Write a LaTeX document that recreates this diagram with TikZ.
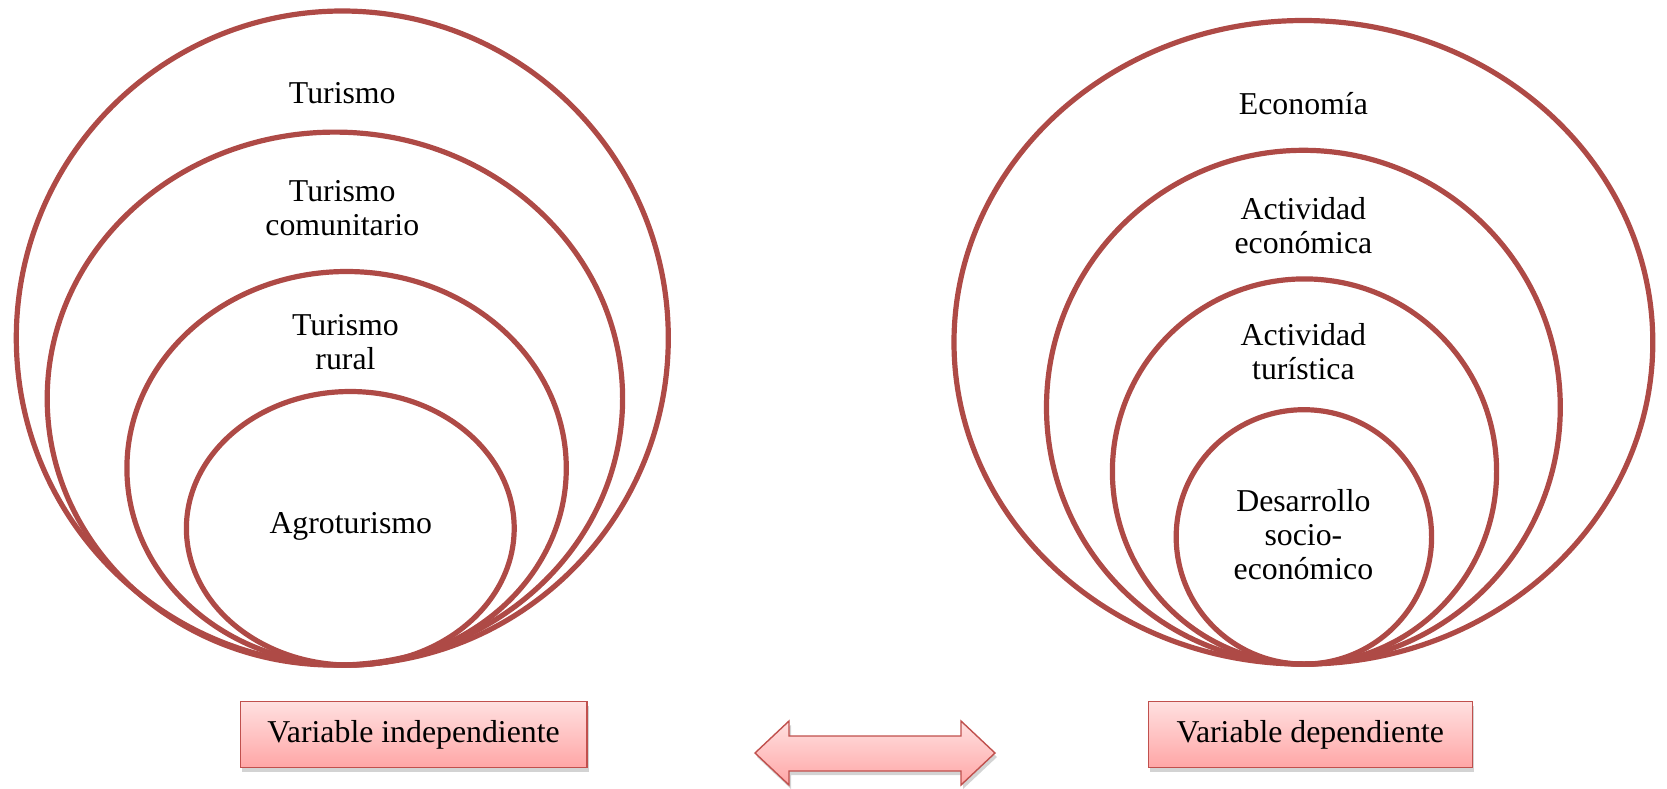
\documentclass[tikz,border=0pt]{standalone}
\usepackage{fontspec}
\setmainfont{Liberation Serif}
\usetikzlibrary{positioning,shapes.geometric,shadows}
\definecolor{ringred}{RGB}{174,74,70}
\definecolor{boxline}{RGB}{192,80,77}
\definecolor{pinktop}{RGB}{255,224,224}
\definecolor{pinkbot}{RGB}{255,166,166}
\tikzset{ring/.style = {ellipse,draw=ringred,line width=2.6pt,inner sep=0pt},
  lbl/.style = {align=center,inner sep=0pt,font=\fontsize{15.9}{17}\selectfont},
  varbox/.style = {draw=boxline,line width=0.7pt,top color=pinktop,bottom color=pinkbot,
    drop shadow={opacity=0.35,shadow xshift=1pt,shadow yshift=-2pt},
    minimum height=33pt,inner sep=0pt,font=\fontsize{15.9}{17}\selectfont}}

\begin{document}
\begin{tikzpicture}[x=0.5pt,y=-0.5pt]
\useasboundingbox (0,0) rectangle (1667,788);
% variable independiente
\node [ring,minimum width=326pt,minimum height=327pt] (turismo) at (342.3,338) {};
\node [ring,minimum width=287.7pt,minimum height=266.5pt] (comunitario) at (334.9,398.6) {};
\node [ring,minimum width=219.7pt,minimum height=196.8pt] (rural) at (346.6,468.3) {};
\node [ring,minimum width=163.9pt,minimum height=136.8pt] (agro) at (350.3,528.3) {};
\node [lbl] (tTurismo) at (342.3,93.6) {Turismo};
\node [lbl] (tComunitario) at (342.3,208.4) {Turismo\\comunitario};
\node [lbl] (tRural) at (345.5,341.8) {Turismo\\rural};
\node [lbl] (tAgro) at (350.8,526.2) {Agroturismo};
% variable dependiente
\node [ring,minimum width=349.4pt,minimum height=321.8pt] (economia) at (1303.4,342.3) {};
\node [ring,minimum width=256.9pt,minimum height=256.9pt] (actEcon) at (1303.4,407.2) {};
\node [ring,minimum width=192.1pt,minimum height=192.6pt] (actTur) at (1304.5,471.5) {};
\node [ring,minimum width=127.7pt,minimum height=127.2pt] (desarrollo) at (1303.9,536.9) {};
\node [lbl] (tEconomia) at (1303.4,103.1) {Economía};
\node [lbl] (tActEcon) at (1303.4,225.4) {Actividad\\económica};
\node [lbl] (tActTur) at (1303.4,351.9) {Actividad\\turística};
\node [lbl] (tDesarrollo) at (1303.4,534.7) {Desarrollo\\socio-\\económico};
% cajas
\node [varbox,minimum width=173.2pt] (indep) at (413.6,734.7) {Variable independiente};
\node [varbox,minimum width=162.1pt] (dep) at (1310.3,734.7) {Variable dependiente};
% flecha doble
\draw [draw=boxline,line width=0.7pt,top color=pinktop,bottom color=pinkbot,
  drop shadow={opacity=0.35,shadow xshift=1pt,shadow yshift=-2pt}]
  (755,753) -- (789,721) -- (789,736) -- (961,736) -- (961,721) -- (995,753)
  -- (961,785) -- (961,771) -- (789,771) -- (789,785) -- cycle;
\end{tikzpicture}
\end{document}
